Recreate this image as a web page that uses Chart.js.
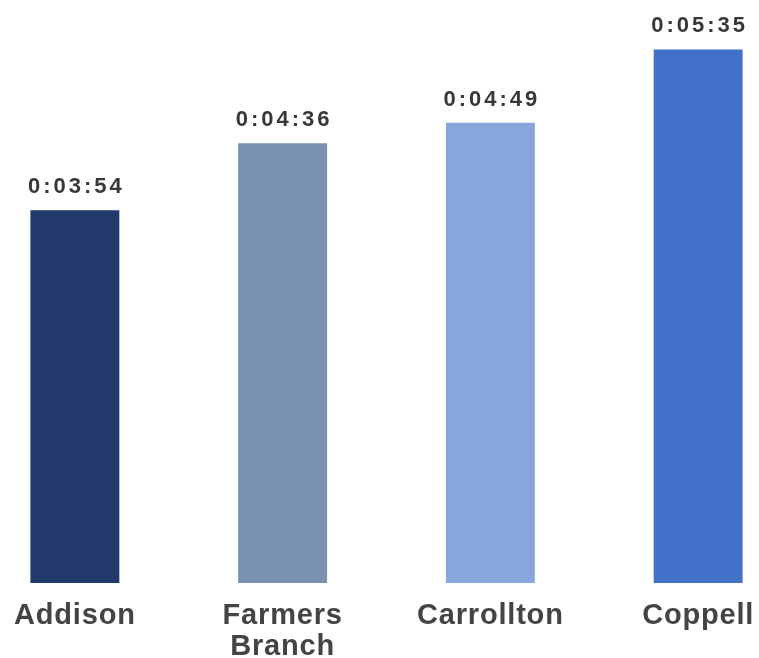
<!DOCTYPE html>
<html>
<head>
<meta charset="utf-8">
<script src="https://cdn.jsdelivr.net/npm/chart.js@4.4.1/dist/chart.umd.min.js"></script>
<style>
  html, body { margin: 0; padding: 0; background: #ffffff; overflow: hidden; width: 759px; height: 658px; }
  #wrap { position: absolute; left: -29px; top: 0; width: 831px; height: 658px; }
</style>
</head>
<body>
<div id="wrap"><canvas id="chart" width="831" height="658"></canvas></div>
<script>
// Average duration per city (h:mm:ss)
const cities = ['Addison', ['Farmers', 'Branch'], 'Carrollton', 'Coppell'];
const durations = ['0:03:54', '0:04:36', '0:04:49', '0:05:35'];
const barColors = ['#22396c', '#7b91b1', '#88a6dc', '#4370c8'];

const toSeconds = s => s.split(':').reduce((acc, p) => acc * 60 + Number(p), 0);
const seconds = durations.map(toSeconds);

const valueLabels = {
  id: 'valueLabels',
  afterDatasetsDraw(chart) {
    const ctx = chart.ctx;
    const meta = chart.getDatasetMeta(0);
    ctx.save();
    ctx.font = 'bold 22px "Liberation Sans", Arial, sans-serif';
    ctx.fillStyle = '#383838';
    ctx.textAlign = 'center';
    ctx.textBaseline = 'middle';
    ctx.letterSpacing = '3px';
    meta.data.forEach((bar, i) => {
      ctx.fillText(durations[i], bar.x + 1.5, bar.y - 23);
    });
    ctx.restore();
  }
};

const spacing = {
  id: 'spacing',
  beforeDraw(chart) { chart.ctx.letterSpacing = '0.8px'; }
};

new Chart(document.getElementById('chart'), {
  type: 'bar',
  data: {
    labels: cities,
    datasets: [{
      data: seconds,
      backgroundColor: barColors,
      borderWidth: 0,
      categoryPercentage: 1,
      barPercentage: 0.428
    }]
  },
  options: {
    responsive: false,
    animation: false,
    layout: { padding: 0 },
    plugins: { legend: { display: false }, tooltip: { enabled: false } },
    scales: {
      x: {
        grid: { display: false, drawTicks: false },
        border: { display: false },
        ticks: {
          color: '#444444',
          padding: 17,
          maxRotation: 0,
          font: { family: '"Liberation Sans", Arial, sans-serif', size: 29, weight: 'bold', lineHeight: 1.07 }
        },
        afterFit(scale) { scale.height = 75; }
      },
      y: { display: false, min: 0, max: 366 }
    }
  },
  plugins: [valueLabels, spacing]
});
</script>
</body>
</html>
